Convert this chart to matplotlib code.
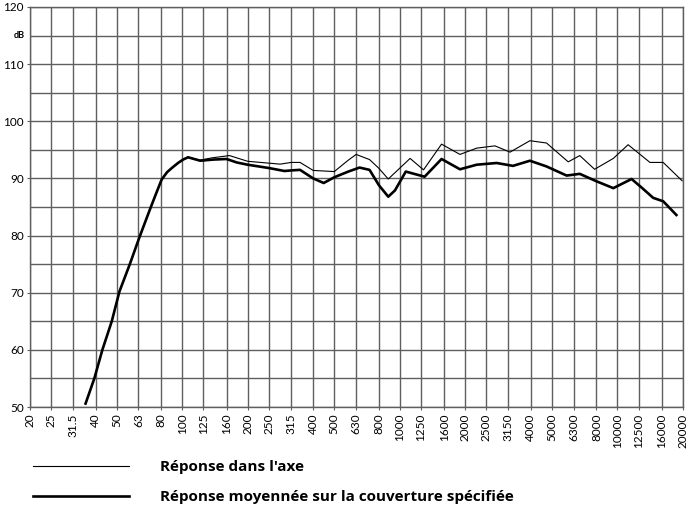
import matplotlib.pyplot as plt
import matplotlib.ticker as mticker

OUT = "out.png"

# 1/3-octave band labels on the x axis
BANDS = [20, 25, 31.5, 40, 50, 63, 80, 100, 125, 160, 200, 250, 315, 400, 500,
         630, 800, 1000, 1250, 1600, 2000, 2500, 3150, 4000, 5000, 6300, 8000,
         10000, 12500, 16000, 20000]
BAND_LABELS = ["20", "25", "31.5", "40", "50", "63", "80", "100", "125", "160",
               "200", "250", "315", "400", "500", "630", "800", "1000", "1250",
               "1600", "2000", "2500", "3150", "4000", "5000", "6300", "8000",
               "10000", "12500", "16000", "20000"]

# averaged response over the specified coverage (thick)
AVG_HZ = [36, 39.5, 43, 47.5, 51.5, 57.5, 63.5, 71, 76, 80.5, 85.3, 89.5,
          95.7, 101, 106.5, 121, 139, 160, 178, 200, 252, 295, 317, 348, 400,
          447, 500, 580, 653, 726, 802, 885, 950, 1065, 1300, 1555, 1890,
          2255, 2785, 3310, 3960, 4720, 5840, 6710, 8010, 9570, 11610, 13000,
          14590, 16220, 18650]
AVG_DB = [50.6, 55.0, 60.0, 65.0, 70.2, 75.0, 79.6, 84.5, 87.4, 89.8, 91.1,
          91.8, 92.7, 93.3, 93.7, 93.1, 93.3, 93.4, 92.8, 92.4, 91.8, 91.3,
          91.4, 91.5, 90.0, 89.2, 90.2, 91.2, 91.9, 91.5, 88.8, 86.8, 87.9,
          91.2, 90.3, 93.4, 91.6, 92.4, 92.7, 92.2, 93.1, 92.1, 90.5, 90.8,
          89.5, 88.3, 89.9, 88.3, 86.6, 86.0, 83.6]

# on-axis response (thin)
AXIS_HZ = [36, 39.5, 43, 47.5, 51.5, 57.5, 63.5, 71, 76, 80.5, 85.3, 89.5,
           95.7, 101, 106.5, 121, 137, 165, 200, 282, 317, 348, 400, 500,
           580, 630, 726, 800, 885, 1115, 1285, 1555, 1890, 2255, 2735, 3210,
           3960, 4720, 5940, 6710, 7850, 9570, 11190, 14100, 16220, 19800]
AXIS_DB = [50.6, 55.0, 60.0, 65.0, 70.2, 75.0, 79.6, 84.5, 87.4, 89.8, 91.1,
           91.8, 92.7, 93.3, 93.7, 93.2, 93.6, 94.0, 93.0, 92.5, 92.8, 92.8,
           91.4, 91.2, 93.2, 94.2, 93.3, 91.8, 89.9, 93.5, 91.5, 96.0, 94.2,
           95.3, 95.7, 94.6, 96.6, 96.2, 92.9, 94.0, 91.6, 93.5, 95.9, 92.8,
           92.8, 89.6]

plt.rcParams["font.family"] = ["Lato", "DejaVu Sans"]

GRID = "#5f5f5f"


def main():
    fig = plt.figure(figsize=(6.88, 5.13), dpi=100)
    ax = fig.add_axes((30 / 688, 1 - 407 / 513, 653 / 688, 400 / 513))

    thin, = ax.plot(AXIS_HZ, AXIS_DB, color="black", lw=0.8,
                    label="Réponse dans l'axe", zorder=3)
    thick, = ax.plot(AVG_HZ, AVG_DB, color="black", lw=1.9,
                     label="Réponse moyennée sur la couverture spécifiée",
                     zorder=4)

    ax.set_xscale("log")
    ax.set_xlim(20, 20000)
    ax.set_ylim(50, 120)
    ax.xaxis.set_major_locator(mticker.FixedLocator(BANDS))
    ax.xaxis.set_major_formatter(mticker.FixedFormatter(BAND_LABELS))
    ax.xaxis.set_minor_locator(mticker.NullLocator())
    ax.yaxis.set_major_locator(mticker.MultipleLocator(10))
    ax.yaxis.set_minor_locator(mticker.MultipleLocator(5))

    ax.grid(True, which="both", color=GRID, lw=1.0)
    ax.set_axisbelow(True)
    for s in ax.spines.values():
        s.set_color(GRID)
        s.set_linewidth(1.0)

    ax.tick_params(axis="x", which="major", length=2.5, width=0.8,
                   color=GRID, labelsize=8.5, pad=2, labelrotation=90)
    ax.tick_params(axis="y", which="major", length=2.5, width=0.8,
                   color=GRID, labelsize=8.5, pad=2)
    ax.tick_params(axis="y", which="minor", length=0)

    ax.text(-0.017, 115, "dB", transform=ax.get_yaxis_transform(),
            ha="center", va="center", fontsize=6.5, fontweight="bold")

    fig.legend(handles=[thin, thick], loc="upper left",
               bbox_to_anchor=(33 / 688, 1 - 460 / 513), frameon=False,
               borderpad=0, borderaxespad=0, handlelength=6.3,
               handletextpad=2.0, labelspacing=1.05,
               prop={"family": ["Open Sans", "DejaVu Sans"], "size": 11,
                     "weight": "bold"})

    fig.savefig(OUT, dpi=100)


if __name__ == "__main__":
    main()
